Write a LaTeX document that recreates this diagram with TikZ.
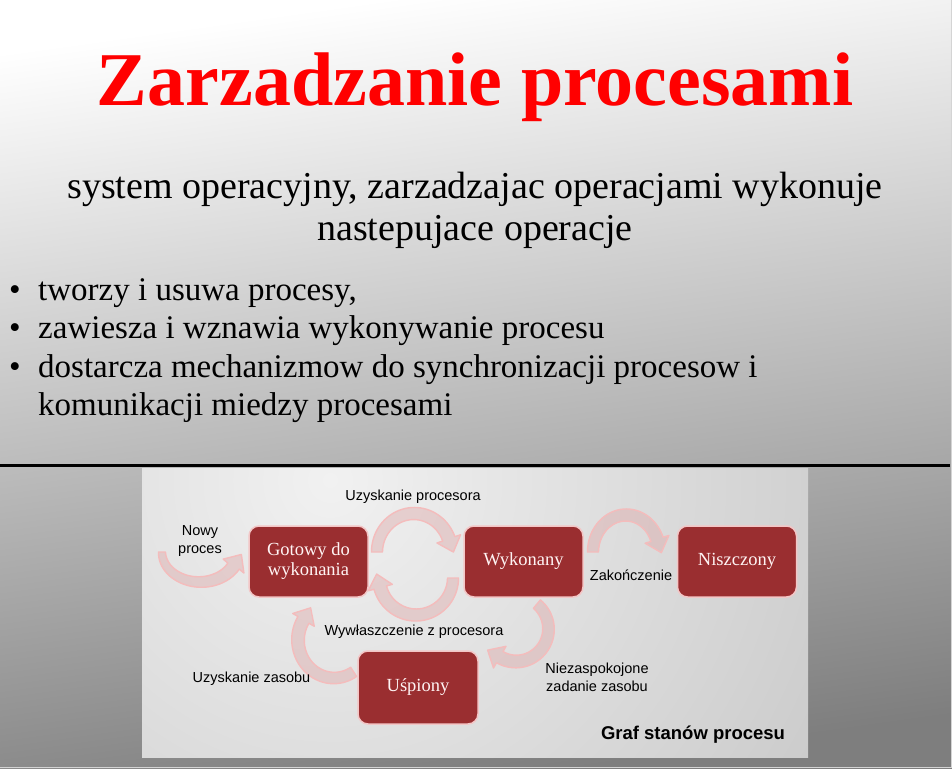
\documentclass[tikz,border=0pt]{standalone}
\usepackage{fontspec}
\setmainfont{Liberation Serif}
\newfontfamily\labelfont{Liberation Sans}

\definecolor{titlered}{HTML}{FF0000}
\definecolor{bgTop}{HTML}{FFFFFF}
\definecolor{bgBot}{HTML}{7E7E7E}
\definecolor{edgegray}{HTML}{D4D4D4}
\definecolor{imgLight}{HTML}{F1F1F1}
\definecolor{imgDark}{HTML}{A6A6A6}
\definecolor{boxfill}{HTML}{9A2E30}
\definecolor{boxedge}{HTML}{F3C6C6}
\definecolor{boxtext}{HTML}{FFF4F4}
\definecolor{arrowedge}{HTML}{F4BCBC}
\definecolor{arrowfill}{HTML}{DDA6A6}

% head size of the curved ribbon arrows
\def\headhalf{12.5}
\def\headlen{14}

% Curved ribbon arrow along an ellipse.
% #1,#2 centre (x right, y down), #3,#4 radii, #5 start angle, #6 end angle,
% #7 width at the tail, #8 width at the head
\newcommand{\ribarrow}[8]{%
  \pgfmathsetmacro{\RcX}{#1}%
  \pgfmathsetmacro{\RcY}{-1*(#2)}%
  \pgfmathsetmacro{\RsA}{#3}\pgfmathsetmacro{\RsB}{#4}%
  \pgfmathsetmacro{\RtA}{#5}\pgfmathsetmacro{\RtB}{#6}%
  \pgfmathsetmacro{\RwA}{#7}\pgfmathsetmacro{\RwB}{#8}%
  \pgfmathsetmacro{\Rsg}{(\RtB>\RtA) ? 1 : -1}%
  \pgfmathsetmacro{\RpX}{\RcX+\RsA*cos(\RtB)}%
  \pgfmathsetmacro{\RpY}{\RcY+\RsB*sin(\RtB)}%
  \pgfmathsetmacro{\RdX}{-1*(\Rsg)*\RsA*sin(\RtB)}%
  \pgfmathsetmacro{\RdY}{(\Rsg)*\RsB*cos(\RtB)}%
  \pgfmathsetmacro{\RdL}{veclen(\RdX,\RdY)}%
  \pgfmathsetmacro{\RuX}{\RdX/\RdL}%
  \pgfmathsetmacro{\RuY}{\RdY/\RdL}%
  \pgfmathsetmacro{\RnX}{(\Rsg)*\RuY}%
  \pgfmathsetmacro{\RnY}{-1*(\Rsg)*\RuX}%
  \filldraw[flowarrow]
    plot[domain=\RtA:\RtB, samples=40, variable=\q]
      ({\RcX+(\RsA+(\RwA+(\RwB-\RwA)*(\q-(\RtA))/(\RtB-(\RtA)))/2)*cos(\q)},
       {\RcY+(\RsB+(\RwA+(\RwB-\RwA)*(\q-(\RtA))/(\RtB-(\RtA)))/2)*sin(\q)})
    -- ({\RpX+\RnX*\headhalf},{\RpY+\RnY*\headhalf})
    -- ({\RpX+\RuX*\headlen},{\RpY+\RuY*\headlen})
    -- ({\RpX-\RnX*\headhalf},{\RpY-\RnY*\headhalf})
    -- plot[domain=\RtB:\RtA, samples=40, variable=\q]
      ({\RcX+(\RsA-(\RwA+(\RwB-\RwA)*(\q-(\RtA))/(\RtB-(\RtA)))/2)*cos(\q)},
       {\RcY+(\RsB-(\RwA+(\RwB-\RwA)*(\q-(\RtA))/(\RtB-(\RtA)))/2)*sin(\q)})
    -- cycle;
}

\begin{document}
\begin{tikzpicture}[x=1pt, y=1pt,
  stylebox/.style={draw=boxedge, fill=boxfill, line width=1.5pt,
    rounded corners=10pt, minimum width=119pt, minimum height=71pt,
    inner sep=0pt, text=boxtext, align=center,
    font=\fontsize{18.5}{20}\selectfont},
  lbl/.style={font=\labelfont\fontsize{14.5}{18}\selectfont, align=center,
    inner sep=0pt, text=black},
  flowarrow/.style={draw=arrowedge, line width=1.4pt, fill=arrowfill,
    fill opacity=0.42, line join=round},
  bodytext/.style={anchor=base west, inner sep=0pt,
    font=\fontsize{33}{38}\selectfont},
  bulletmark/.style={anchor=base, inner sep=0pt,
    font=\fontsize{33}{38}\selectfont},
  subtext/.style={anchor=base, inner sep=0pt,
    font=\fontsize{38}{42}\selectfont}]

\useasboundingbox (0,-768) rectangle (952,0);

% slide background
\shade[top color=bgTop, bottom color=bgBot, shading angle=8]
  (0,-768) rectangle (952,0);
\draw[edgegray, line width=1.5pt] (951.25,0) -- (951.25,-768);
\draw[edgegray, line width=1.5pt] (0,-767.25) -- (952,-767.25);

% title and introduction
\node[anchor=base, inner sep=0pt, text=titlered,
  font=\bfseries\fontsize{76}{80}\selectfont] (title) at (475,-105)
  {Zarzadzanie procesami};
\node[subtext] (sub1) at (475,-198)
  {system operacyjny, zarzadzajac operacjami wykonuje};
\node[subtext] (sub2) at (475,-240) {nastepujace operacje};

% list of operations
\node[bulletmark] (b1) at (15,-300) {•};
\node[bodytext] (i1) at (38,-300) {tworzy i usuwa procesy,};
\node[bulletmark] (b2) at (15,-338.5) {•};
\node[bodytext] (i2) at (38,-338.5) {zawiesza i wznawia wykonywanie procesu};
\node[bulletmark] (b3) at (15,-377) {•};
\node[bodytext] (i3) at (38,-377)
  {dostarcza mechanizmow do synchronizacji procesow i};
\node[bodytext] (i3b) at (38,-415.5) {komunikacji miedzy procesami};

% separator
\draw[line width=3pt] (0,-465.7) -- (950,-465.7);

% state graph panel
\begin{scope}
  \clip (142,-757) rectangle (808,-468);
  \shade[inner color=imgLight, outer color=imgDark] (330,-480) circle (1120);
\end{scope}

% transitions
\ribarrow{200}{552}{38}{30}{180}{332}{7}{13}     % nowy proces
\ribarrow{414}{552}{37}{38.5}{180}{20}{11}{13}    % uzyskanie procesora
\ribarrow{416}{578}{37}{37}{0}{-165}{11}{13}      % wywlaszczenie
\ribarrow{626}{552}{33}{37}{180}{20}{11}{13}      % zakonczenie
\ribarrow{516}{629}{32.5}{32.5}{50}{-120}{11}{13} % niezaspokojone zadanie
\ribarrow{334}{640}{36}{38}{-57}{-212}{11}{13}    % uzyskanie zasobu

% states
\node[stylebox] (ready) at (308.5,-561.5) {Gotowy do\\wykonania};
\node[stylebox] (run) at (523.5,-561.5) {Wykonany};
\node[stylebox] (dead) at (737,-561.5) {Niszczony};
\node[stylebox, minimum width=120pt, minimum height=73pt] (sleep)
  at (418,-687.5) {Uśpiony};

% transition labels
\node[lbl] (lnew) at (200,-541) {Nowy\\proces};
\node[lbl] (lcpu) at (413,-497) {Uzyskanie procesora};
\node[lbl] (lend) at (631,-575) {Zakończenie};
\node[lbl] (lpre) at (414,-632) {Wywłaszczenie z procesora};
\node[lbl] (lres) at (251.5,-679) {Uzyskanie zasobu};
\node[lbl] (lwait) at (597,-677) {Niezaspokojone\\zadanie zasobu};
\node[inner sep=0pt, font=\labelfont\bfseries\fontsize{18.5}{20}\selectfont]
  (caption) at (693,-735) {Graf stanów procesu};

\end{tikzpicture}
\end{document}
